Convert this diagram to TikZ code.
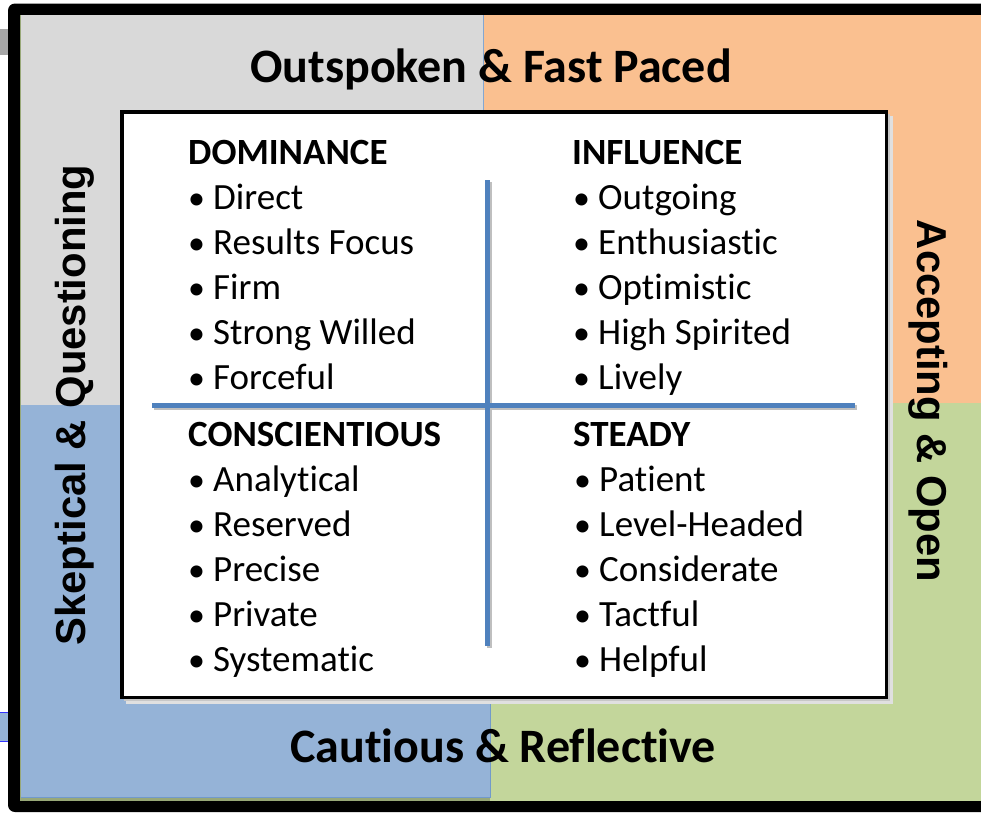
\documentclass[tikz,border=0pt]{standalone}
\usepackage{fontspec}
\setmainfont[Ligatures={NoCommon,NoRare}]{Carlito}
\newfontfamily\sidefont{Liberation Sans}
\definecolor{grayq}{HTML}{D9D9D9}
\definecolor{orangeq}{HTML}{FAC090}
\definecolor{blueq}{HTML}{95B3D7}
\definecolor{greenq}{HTML}{C3D69B}
\definecolor{lineblue}{HTML}{4F81BD}
\definecolor{olive}{HTML}{98A878}
\tikzset{
  title/.style={font=\fontsize{48}{50}\selectfont\bfseries, inner sep=0pt, anchor=base},
  side/.style={font=\sidefont\fontsize{41.8}{44}\selectfont\bfseries, inner sep=0pt, anchor=base},
  head/.style={font=\fontsize{37}{40}\selectfont\bfseries, inner sep=0pt, anchor=base west},
  item/.style={font=\fontsize{37}{40}\selectfont, inner sep=0pt, anchor=base west},
  divider/.style={draw=lineblue, line width=4.5pt},
  dshadow/.style={draw=black!25, line width=4.5pt},
}
\newcommand{\bul}{\makebox[25pt][l]{\fontsize{34}{34}\selectfont•}}
\begin{document}
\begin{tikzpicture}[x=1pt,y=-1pt]
\useasboundingbox (0,0) rectangle (981,814);
% stray bits left of the frame
\fill[black!35] (0,29) rectangle (8,55);
\fill[blueq] (0,712) rectangle (8,741);
\draw[blue!80, line width=1pt] (0,712) -- (8,712) (0,741) -- (8,741);
% frame
\fill[black, rounded corners=7pt] (8,3.5) rectangle (1010,812);
% quadrants
\fill[olive] (20,15) rectangle (1000,801);
\fill[greenq] (490,403) rectangle (1000,801);
\fill[grayq] (21,15) rectangle (483,405);
\fill[orangeq] (483,15) rectangle (1000,403);
\draw[lineblue!70, line width=1pt] (483.5,15) -- (483.5,110);
\fill[lineblue!80] (21,405) rectangle (491,798);
\fill[blueq] (21,405) rectangle (489.5,796.5);
% inner box with shadow
\fill[black!12] (126,116) rectangle (893,704);
\fill[black!22] (124,114) rectangle (890,701);
\draw[fill=white, line width=3.5pt] (121.75,111.75) rectangle (886.25,697.25);
% dividers
\coordinate (vt) at (487.5,180);
\coordinate (vb) at (487.5,646);
\coordinate (hl) at (152,405.5);
\coordinate (hr) at (855,405.5);
\draw[dshadow] ([shift={(2,2)}]vt) -- ([shift={(2,2)}]vb);
\draw[dshadow] ([shift={(2,2)}]hl) -- ([shift={(2,2)}]hr);
\draw[divider] (vt) -- (vb);
\draw[divider] (hl) -- (hr);
% titles
\node[title] (top) at (491,82) {Outspoken \& Fast Paced};
\node[title] (bottom) at (503,762) {Cautious \& Reflective};
\node[side, rotate=90] (left) at (85,405) {Skeptical \& Questioning};
\node[side, rotate=-90] (right) at (917,401) {Accepting \& Open};
% Dominance
\node[head] (dh) at (188,164) {DOMINANCE};
\node[item] (d1) at (188,209) {\bul Direct};
\node[item] (d2) at (188,254) {\bul Results Focus};
\node[item] (d3) at (188,299) {\bul Firm};
\node[item] (d4) at (188,344) {\bul Strong Willed};
\node[item] (d5) at (188,389) {\bul Forceful};
% Influence
\node[head] (ih) at (572,164) {INFLUENCE};
\node[item] (i1) at (573,209) {\bul Outgoing};
\node[item] (i2) at (573,254) {\bul Enthusiastic};
\node[item] (i3) at (573,299) {\bul Optimistic};
\node[item] (i4) at (573,344) {\bul High Spirited};
\node[item] (i5) at (573,389) {\bul Lively};
% Conscientious
\node[head] (ch) at (188,446) {CONSCIENTIOUS};
\node[item] (c1) at (188,491) {\bul Analytical};
\node[item] (c2) at (188,536) {\bul Reserved};
\node[item] (c3) at (188,581) {\bul Precise};
\node[item] (c4) at (188,626) {\bul Private};
\node[item] (c5) at (188,671) {\bul Systematic};
% Steady
\node[head] (sh) at (573,446) {STEADY};
\node[item] (s1) at (574,491) {\bul Patient};
\node[item] (s2) at (574,536) {\bul Level-Headed};
\node[item] (s3) at (574,581) {\bul Considerate};
\node[item] (s4) at (574,626) {\bul Tactful};
\node[item] (s5) at (574,671) {\bul Helpful};
\end{tikzpicture}
\end{document}
